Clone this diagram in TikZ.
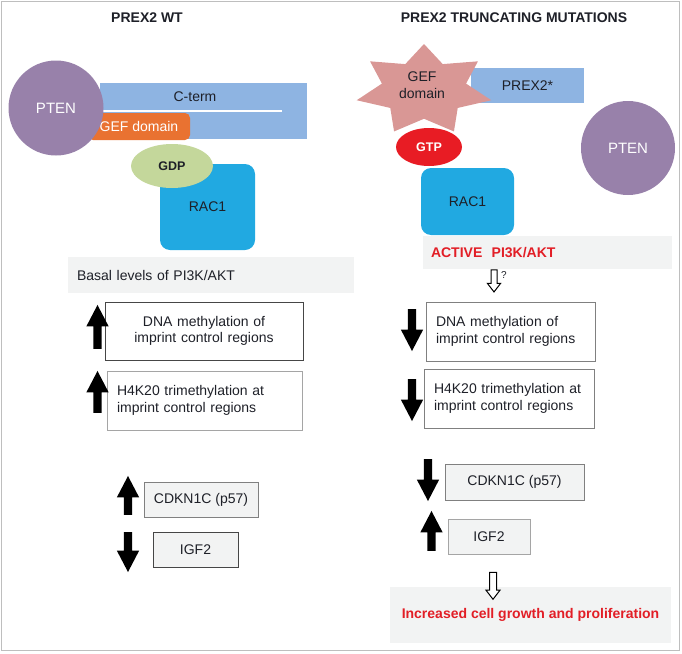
\documentclass[tikz,border=0pt]{standalone}
\usepackage{fontspec}
\setmainfont{Liberation Sans}
\usetikzlibrary{shapes.geometric,shapes.arrows,positioning}
\definecolor{prexblue}{RGB}{142,180,226}
\definecolor{gefor}{RGB}{233,114,49}
\definecolor{ptenpurple}{RGB}{152,129,170}
\definecolor{gdpgreen}{RGB}{196,215,155}
\definecolor{racblue}{RGB}{33,169,225}
\definecolor{gtpred}{RGB}{232,28,36}
\definecolor{starpink}{RGB}{217,151,149}
\definecolor{boxgray}{RGB}{242,243,243}
\definecolor{framegray}{RGB}{190,190,190}
\definecolor{textred}{RGB}{226,30,38}
\definecolor{textdark}{RGB}{30,32,40}
\definecolor{darkline}{RGB}{70,70,70}
\definecolor{midline}{RGB}{128,128,128}
\definecolor{lightline}{RGB}{165,165,165}
\begin{document}
\begin{tikzpicture}[x=1pt, y=-1pt,
  every node/.style={font=\fontsize{14}{16.5}\selectfont, text=textdark},
  boldtxt/.style={font=\fontsize{14}{16.5}\selectfont\bfseries},
  blockarrow/.style={single arrow, fill=black, inner sep=4pt, minimum width=22pt,
    single arrow head extend=7pt, single arrow tip angle=55},
  uparrow/.style={blockarrow, shape border rotate=90},
  downarrow/.style={blockarrow, shape border rotate=270},
  hollowarrow/.style={single arrow, draw=black, fill=white, line width=1pt,
    inner sep=2.5pt, minimum width=12pt, single arrow head extend=3.5pt,
    single arrow tip angle=75, shape border rotate=270},
  rac/.style={fill=racblue, rounded corners=10pt},
  pten/.style={circle, fill=ptenpurple, text=white, font=\fontsize{15}{17}\selectfont}]
\useasboundingbox (0,0) rectangle (682,653);
\draw[framegray, line width=1.5pt] (1.5,1.5) rectangle (679.5,650.5);
\node[boldtxt] (wttitle) at (147,18) {PREX2 WT};
\node[boldtxt] (muttitle) at (514,18) {PREX2 TRUNCATING MUTATIONS};

\node[fill=prexblue, minimum width=207pt, minimum height=56pt] (prexwt) at (203.5,111) {};
\draw[white, line width=2.5pt] (prexwt.west) -- ([xshift=-25pt]prexwt.east);
\node (cterm) at (195,97) {C-term};
\node[fill=gefor, rounded corners=5pt, minimum width=102pt, minimum height=27pt,
  text=white] (gefwt) at (139,126.5) {GEF domain};
\node[pten, minimum size=95pt] (ptenwt) at (56,108) {PTEN};
\node[rac, minimum width=95pt, minimum height=86pt] (racwt) at (207.5,207) {RAC1};
\node[ellipse, fill=gdpgreen, minimum width=82pt, minimum height=44pt,
  font=\fontsize{12.5}{15}\selectfont\bfseries] (gdp) at (172,166) {GDP};
\node[fill=boxgray, text width=268pt, inner xsep=9pt, minimum height=36pt,
  align=left] (basal) at (211,275) {Basal levels of PI3K/AKT};

\node[fill=prexblue, minimum width=113pt, minimum height=35pt] (prexmut) at (527.5,85.5) {PREX2*};
\begin{scope}[shift={(424,90)}, xscale=1.5]
\node[star, star points=7, star point ratio=1.6, minimum size=92pt, fill=starpink,
  transform shape] (gefstar) at (0,0) {};
\end{scope}
\node[align=center] (geflabel) at (422,85) {GEF\\domain};
\node[ellipse, fill=gtpred, minimum width=66pt, minimum height=38pt, text=white,
  font=\fontsize{12.5}{15}\selectfont\bfseries] (gtp) at (429,147) {GTP};
\node[rac, minimum width=93pt, minimum height=67pt] (racmut) at (467.5,201.5) {RAC1};
\node[pten, minimum size=94pt] (ptenmut) at (628,148) {PTEN};
\node[fill=boxgray, text width=233pt, inner xsep=8pt, minimum height=33pt, align=left,
  boldtxt, text=textred] (active) at (547.5,252.5) {ACTIVE\ \ PI3K/AKT};
\node[hollowarrow, minimum height=22pt] (qarrow) at (494,279) {};
\node[font=\fontsize{10}{12}\selectfont] (qmark) at (504,275) {?};

\node[draw=darkline, line width=0.8pt, text width=178pt, inner xsep=10pt,
  minimum height=58pt, align=center] (dnawt) at (204,331)
  {DNA methylation of\\imprint control regions};
\node[draw=lightline, line width=0.8pt, text width=175pt, inner xsep=10pt,
  minimum height=59pt, align=left] (h4wt) at (204.5,400.5)
  {H4K20 trimethylation at\\imprint control regions};
\node[draw=midline, line width=0.8pt, fill=boxgray, minimum width=114pt,
  minimum height=35pt] (cdkwt) at (201,499.5) {CDKN1C (p57)};
\node[draw=darkline, line width=0.8pt, fill=boxgray, minimum width=85pt,
  minimum height=35pt] (igfwt) at (195.5,549.5) {IGF2};
\node[uparrow, minimum height=44pt] (upwt1) at (97.5,331) {};
\node[uparrow, minimum height=42pt] (upwt2) at (97.5,396) {};
\node[uparrow, minimum height=39pt] (upwt3) at (128,499.5) {};
\node[downarrow, minimum height=40pt] (downwt4) at (128,548) {};

\node[draw=midline, line width=0.8pt, text width=149pt, inner xsep=10pt,
  minimum height=59pt, align=left] (dnamut) at (510.5,331.5)
  {DNA methylation of\\imprint control regions};
\node[draw=midline, line width=0.8pt, text width=150pt, inner xsep=10pt,
  minimum height=59pt, align=left] (h4mut) at (509,398.5)
  {H4K20 trimethylation at\\imprint control regions};
\node[draw=midline, line width=0.8pt, fill=boxgray, minimum width=139pt,
  minimum height=36pt] (cdkmut) at (514.5,482) {CDKN1C (p57)};
\node[draw=lightline, line width=0.8pt, fill=boxgray, minimum width=82pt,
  minimum height=35pt] (igfmut) at (489,536.5) {IGF2};
\node[downarrow, minimum height=42pt] (downmut1) at (412,326) {};
\node[downarrow, minimum height=42pt] (downmut2) at (412,396) {};
\node[downarrow, minimum height=42pt] (downmut3) at (428,476) {};
\node[uparrow, minimum height=40pt] (upmut4) at (431.5,535) {};
\node[fill=boxgray, minimum width=281pt, minimum height=56pt, boldtxt,
  text=textred] (growth) at (530.5,615) {Increased cell growth and proliferation};
\node[hollowarrow, minimum height=27pt, minimum width=14pt, inner sep=3pt] (growarrow) at (493,583.5) {};
\end{tikzpicture}
\end{document}
